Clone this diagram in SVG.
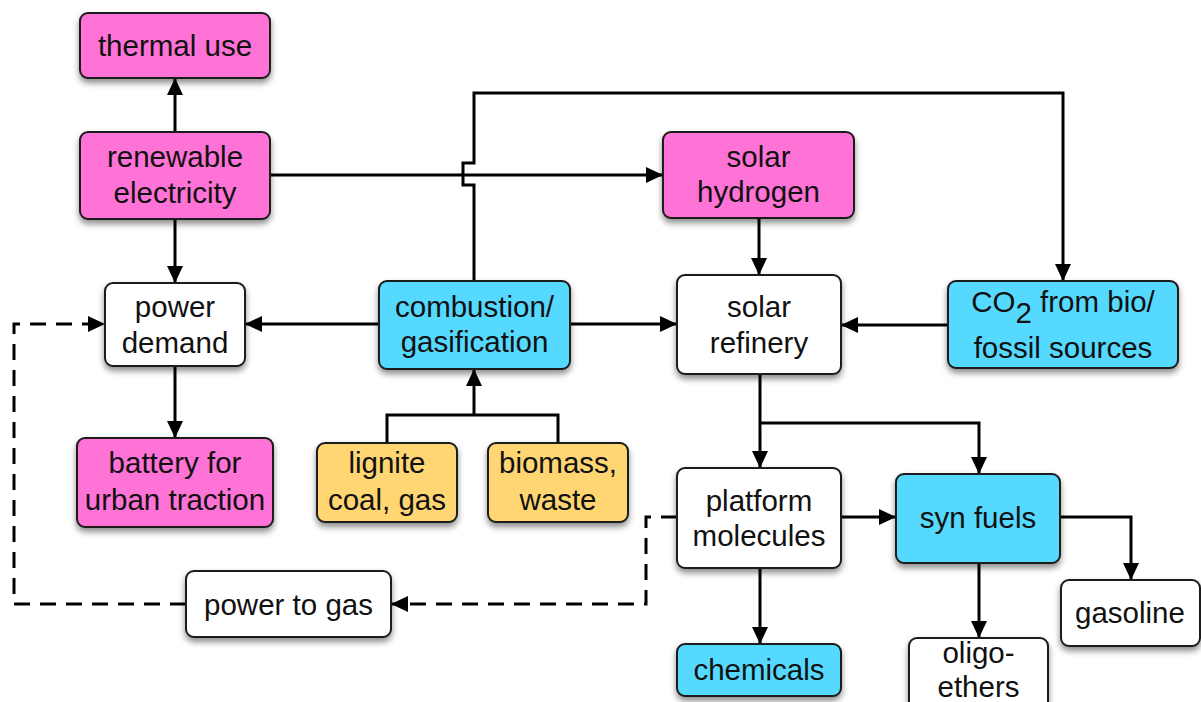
<svg xmlns="http://www.w3.org/2000/svg" width="1201" height="702" viewBox="0 0 1201 702">
<style>
.box{stroke:#1a1a1a;stroke-width:2;filter:url(#sh)}
.pink{fill:#FF72D6}
.cyan{fill:#55D9FF}
.yel{fill:#FFD672}
.wht{fill:#FFFFFF}
text{font-family:"Liberation Sans",Arial,sans-serif;font-size:29.5px;fill:#111;text-anchor:middle}
.ln{fill:none;stroke:#000;stroke-width:3}
.arr{marker-end:url(#ah)}
.dash{stroke-dasharray:16 10}
</style>
<defs>
<filter id="sh" x="-20%" y="-20%" width="140%" height="150%">
<feDropShadow dx="0" dy="4" stdDeviation="3" flood-color="#000" flood-opacity="0.45"/>
</filter>
<marker id="ah" markerUnits="userSpaceOnUse" markerWidth="18" markerHeight="16" refX="17" refY="8" orient="auto">
<path d="M0,0 L17,8 L0,16 z" fill="#000"/>
</marker>
</defs>
<rect width="1201" height="702" fill="#fff"/>
<g id="connectors">
<path class="ln arr" d="M175,132 V78"/>
<path class="ln arr" d="M270,175 H663"/>
<path class="ln arr" d="M175,219 V283"/>
<path class="ln arr" d="M474,281 V185 H463 V163 H474 V93 H1063 V281"/>
<path class="ln arr" d="M759,218 V275"/>
<path class="ln arr" d="M379,324 H245"/>
<path class="ln arr" d="M570,324 H677"/>
<path class="ln arr" d="M948,325 H841"/>
<path class="ln arr" d="M175,366 V438"/>
<path class="ln" d="M387,443 V415 H558 V443"/>
<path class="ln arr" d="M474,415 V369"/>
<path class="ln arr" d="M760,374 V468"/>
<path class="ln arr" d="M760,423 H979 V474"/>
<path class="ln arr" d="M841,517 H896"/>
<path class="ln arr" d="M1060,517 H1131 V580"/>
<path class="ln arr" d="M979,563 V638"/>
<path class="ln arr" d="M760,568 V644"/>
<path class="ln dash arr" d="M677,517 H646 V604 H391"/>
<path class="ln dash arr" d="M186,604 H14 V324 H105"/>
</g>
<g id="thermal-use"><rect class="box pink" x="80" y="13" width="190" height="65" rx="8"/><text x="175" y="56">thermal use</text></g>
<g id="renewable-electricity"><rect class="box pink" x="80" y="132" width="190" height="87" rx="8"/><text x="175" y="167">renewable</text><text x="175" y="203">electricity</text></g>
<g id="solar-hydrogen"><rect class="box pink" x="663" y="132" width="191" height="86" rx="8"/><text x="758.5" y="167">solar</text><text x="758.5" y="202">hydrogen</text></g>
<g id="power-demand"><rect class="box wht" x="105" y="283" width="140" height="83" rx="8"/><text x="175" y="317">power</text><text x="175" y="353">demand</text></g>
<g id="combustion"><rect class="box cyan" x="379" y="281" width="191" height="88" rx="8"/><text x="474.5" y="317">combustion/</text><text x="474.5" y="352">gasification</text></g>
<g id="solar-refinery"><rect class="box wht" x="677" y="275" width="164" height="99" rx="8"/><text x="759" y="317">solar</text><text x="759" y="353">refinery</text></g>
<g id="co2"><rect class="box cyan" x="948" y="281" width="230" height="87" rx="8"/><text x="1063" y="312"><tspan>CO</tspan><tspan dy="11">2</tspan><tspan dy="-11"> from bio/</tspan></text><text x="1063" y="358">fossil sources</text></g>
<g id="battery"><rect class="box pink" x="77" y="438" width="196" height="89" rx="8"/><text x="175" y="473">battery for</text><text x="175" y="510">urban traction</text></g>
<g id="lignite"><rect class="box yel" x="317" y="443" width="140" height="79" rx="8"/><text x="387" y="473">lignite</text><text x="387" y="510">coal, gas</text></g>
<g id="biomass"><rect class="box yel" x="488" y="443" width="140" height="79" rx="8"/><text x="558" y="473">biomass,</text><text x="558" y="510">waste</text></g>
<g id="platform"><rect class="box wht" x="677" y="468" width="164" height="100" rx="8"/><text x="759" y="511">platform</text><text x="759" y="546">molecules</text></g>
<g id="syn-fuels"><rect class="box cyan" x="896" y="474" width="164" height="89" rx="8"/><text x="978" y="528">syn fuels</text></g>
<g id="gasoline"><rect class="box wht" x="1061" y="580" width="139" height="66" rx="8"/><text x="1130" y="623">gasoline</text></g>
<g id="oligo-ethers"><rect class="box wht" x="909" y="638" width="139" height="80" rx="8"/><text x="978.5" y="663">oligo-</text><text x="978.5" y="697">ethers</text></g>
<g id="chemicals"><rect class="box cyan" x="677" y="644" width="164" height="52" rx="8"/><text x="759" y="680">chemicals</text></g>
<g id="power-to-gas"><rect class="box wht" x="186" y="571" width="205" height="66" rx="8"/><text x="288.5" y="615">power to gas</text></g>
</svg>
